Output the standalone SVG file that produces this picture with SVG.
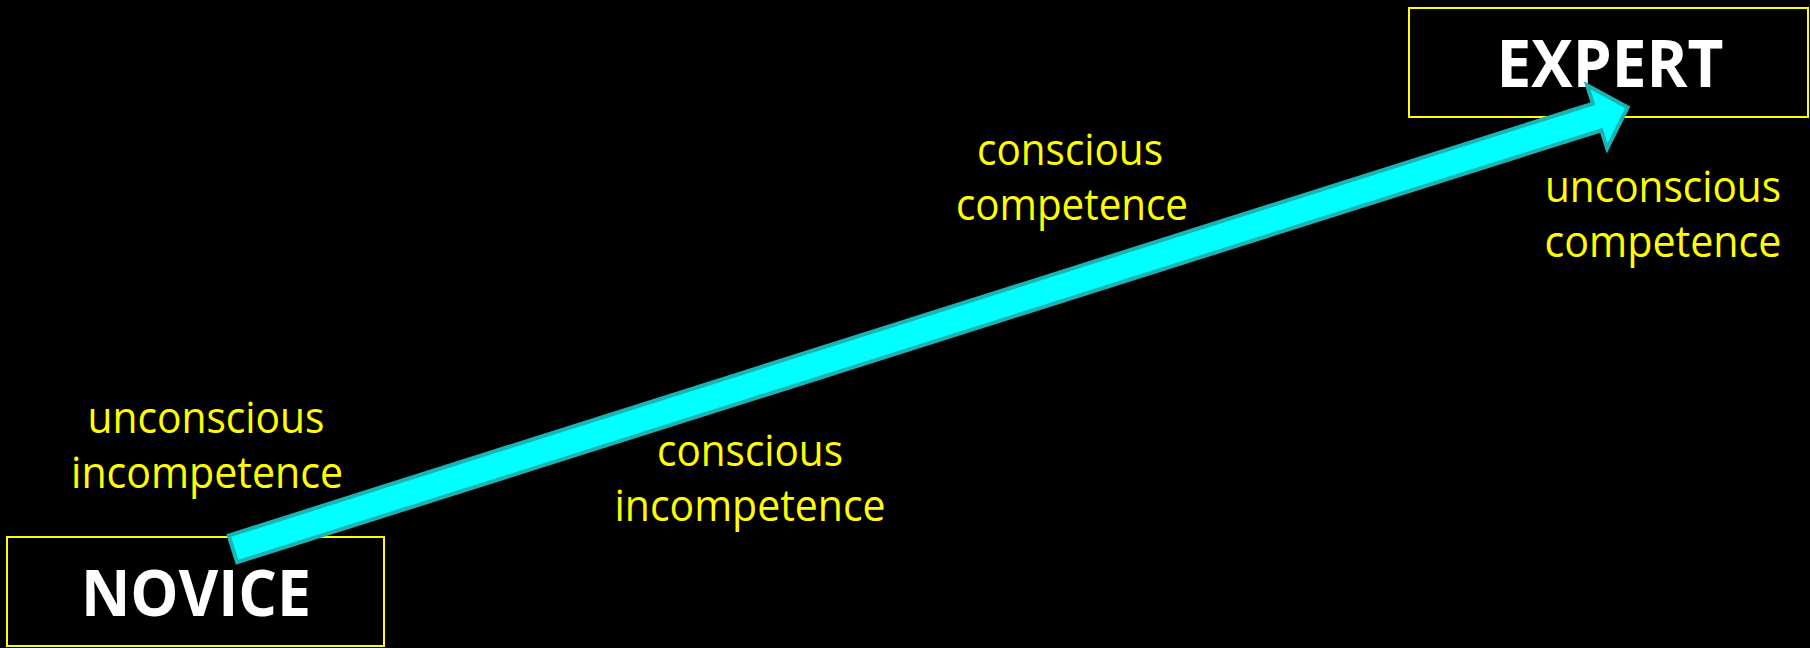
<svg xmlns="http://www.w3.org/2000/svg" width="1810" height="648" viewBox="0 0 1810 648">
<style>
.box{fill:none;stroke:#ffff00;stroke-width:2}
.title{font-family:"Open Sans","Liberation Sans",sans-serif;font-weight:700;fill:#ffffff;text-anchor:middle}
.lbl{font-family:"Open Sans","Liberation Sans",sans-serif;font-size:43px;fill:#ffff00;text-anchor:middle}
.arrow{fill:#00ffff;stroke:#1ab4b4;stroke-width:4;stroke-linejoin:miter}
</style>
<rect x="0" y="0" width="1810" height="648" fill="#000000"/>
<g id="novice">
<rect class="box" x="7" y="537" width="377" height="109"/>
<text class="title" x="196" y="616" font-size="64" textLength="230" lengthAdjust="spacingAndGlyphs">NOVICE</text>
</g>
<g id="expert">
<rect class="box" x="1409" y="8" width="399" height="109"/>
<text class="title" x="1610" y="87" font-size="67" textLength="227" lengthAdjust="spacingAndGlyphs">EXPERT</text>
</g>
<g id="label-ui">
<text class="lbl" x="206" y="433" textLength="237" lengthAdjust="spacingAndGlyphs">unconscious</text>
<text class="lbl" x="207" y="488" textLength="272" lengthAdjust="spacingAndGlyphs">incompetence</text>
</g>
<g id="label-ci">
<text class="lbl" x="750" y="466" textLength="186" lengthAdjust="spacingAndGlyphs">conscious</text>
<text class="lbl" x="750" y="521" textLength="271" lengthAdjust="spacingAndGlyphs">incompetence</text>
</g>
<g id="label-cc">
<text class="lbl" x="1070" y="165" textLength="186" lengthAdjust="spacingAndGlyphs">conscious</text>
<text class="lbl" x="1072" y="220" textLength="232" lengthAdjust="spacingAndGlyphs">competence</text>
</g>
<g id="label-uc">
<text class="lbl" x="1663" y="202" textLength="236" lengthAdjust="spacingAndGlyphs">unconscious</text>
<text class="lbl" x="1663" y="257" textLength="237" lengthAdjust="spacingAndGlyphs">competence</text>
</g>
<g id="connectors">
<path class="arrow" transform="translate(231,549.5) rotate(-17.57)" d="M2,-14 L1433,-14 L1433,-33 L1465,0 L1433,33 L1433,14 L2,14 Z"/>
</g>
</svg>
